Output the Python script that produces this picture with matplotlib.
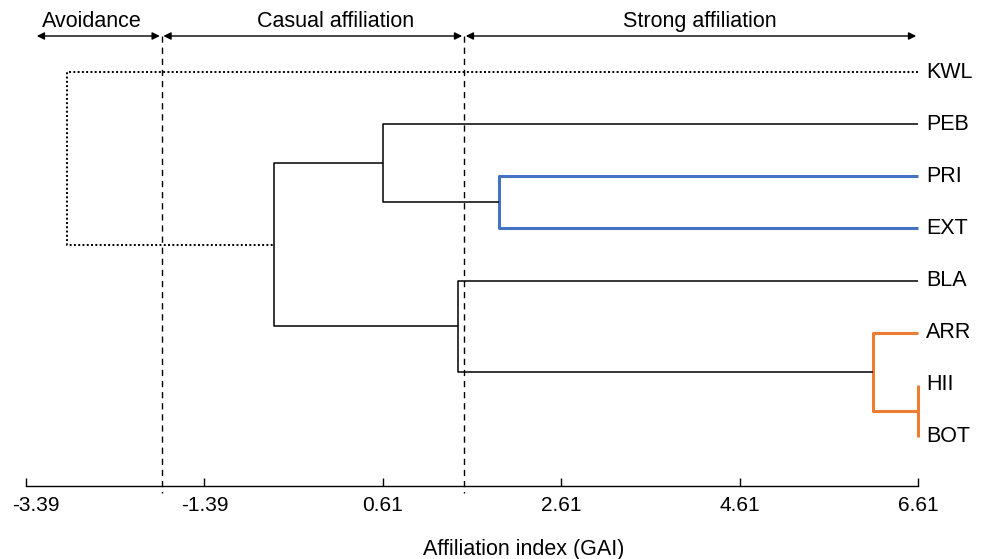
import matplotlib
matplotlib.use("Agg")
import matplotlib.pyplot as plt
import matplotlib.transforms as mtransforms

plt.rcParams['font.family'] = ['Liberation Sans', 'DejaVu Sans']

# leaves, top to bottom
labels = ["KWL", "PEB", "PRI", "EXT", "BLA", "ARR", "HII", "BOT"]
# merges: (child a, child b, GAI height); new node ids start at len(labels)
merge_a = [6, 5, 4, 2, 1, 12, 0]
merge_b = [7, 8, 9, 3, 11, 10, 13]
merge_h = [6.61, 6.11, 1.45, 1.91, 0.61, -0.61, -2.93]
merge_style = ["orange", "orange", "black", "blue", "black", "black", "dotted"]
leaf_value = 6.61

ticks = [-3.39, -1.39, 0.61, 2.61, 4.61, 6.61]
thresholds = [-1.87, 1.52]
zones = ["Avoidance", "Casual affiliation", "Strong affiliation"]

styles = {
    "black": dict(color="black", lw=1.1, ls="-"),
    "blue": dict(color="#4472C4", lw=2.2, ls="-"),
    "orange": dict(color="#ED7D31", lw=2.2, ls="-"),
    "dotted": dict(color="black", lw=1.4, ls=(0, (1, 1.2))),
}

W, H = 983, 559
fig = plt.figure(figsize=(W / 100, H / 100), dpi=100)
ax_left, ax_right, ax_top, ax_bot = 26, 918, 10, 486
ax = fig.add_axes([ax_left / W, 1 - ax_bot / H, (ax_right - ax_left) / W, (ax_bot - ax_top) / H])

# pixel -> data helpers
def py(p):
    return (p - 72) / 52.14

def px(p):
    return ticks[0] + (p - ax_left) / (ax_right - ax_left) * (ticks[-1] - ticks[0])

ax.set_xlim(ticks[0], ticks[-1])
ax.set_ylim(py(ax_bot), py(ax_top))

# build dendrogram
pos = {i: (float(i), leaf_value) for i in range(len(labels))}
for k, (a, b, h, s) in enumerate(zip(merge_a, merge_b, merge_h, merge_style)):
    ya, ha = pos[a]
    yb, hb = pos[b]
    st = styles[s]
    ax.plot([ha, h, h, hb], [ya, ya, yb, yb], solid_capstyle="butt", clip_on=False, **st)
    pos[len(labels) + k] = ((ya + yb) / 2, h)

for i, lab in enumerate(labels):
    ax.text(ticks[-1] + 0.09, i, lab, fontsize=15.5, va="center", ha="left")

# threshold lines
for t in thresholds:
    ax.plot([t, t], [py(36), py(493)], color="black", lw=1.0, ls=(0, (4.5, 3.5)), clip_on=False)

# zone arrows
bounds = [px(35), thresholds[0], thresholds[1], ticks[-1]]
zone_text_x = [92, 336, 700]
for i, z in enumerate(zones):
    x0, x1 = bounds[i], bounds[i + 1]
    ax.annotate("", xy=(x0 + 0.02, py(36)), xytext=(x1 - 0.02, py(36)),
                arrowprops=dict(arrowstyle="<|-|>", color="black", lw=1.0,
                                mutation_scale=11, shrinkA=0, shrinkB=0))
    ax.text(px(zone_text_x[i]), py(21), z, fontsize=15.5, ha="center", va="center")

ax.set_xticks(ticks)
ax.set_xticklabels([f"{t:.2f}" for t in ticks], fontsize=15)
ax.tick_params(axis="x", direction="in", length=6, width=1, pad=7)
first = ax.get_xticklabels()[0]
first.set_transform(first.get_transform() + mtransforms.ScaledTranslation(10 / 100, 0, fig.dpi_scale_trans))
ax.set_yticks([])
for s in ["left", "right", "top"]:
    ax.spines[s].set_visible(False)
ax.spines["bottom"].set_linewidth(1.0)

fig.text(524 / W, 1 - 549 / H, "Affiliation index (GAI)", fontsize=15.5, ha="center", va="center")

fig.savefig("out.png", dpi=100)
